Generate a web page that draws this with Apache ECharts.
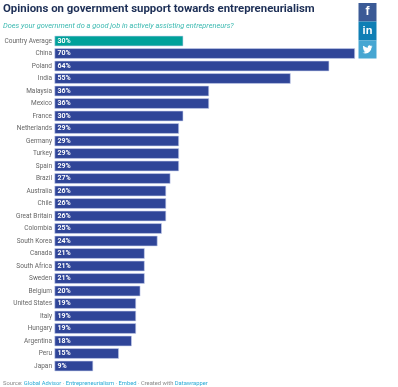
<!DOCTYPE html>
<html>
<head>
<meta charset="utf-8">
<style>
html, body { margin: 0; padding: 0; background: #fff; }
#chart { width: 398px; height: 387px; }
</style>
<script src="https://cdn.jsdelivr.net/npm/echarts@6/dist/echarts.min.js"></script>
</head>
<body>
<div id="chart"></div>
<script>
var countries = ['Country Average', 'China', 'Poland', 'India', 'Malaysia', 'Mexico', 'France', 'Netherlands', 'Germany', 'Turkey', 'Spain', 'Brazil', 'Australia', 'Chile', 'Great Britain', 'Colombia', 'South Korea', 'Canada', 'South Africa', 'Sweden', 'Belgium', 'United States', 'Italy', 'Hungary', 'Argentina', 'Peru', 'Japan']
var shares = [30, 70, 64, 55, 36, 36, 30, 29, 29, 29, 29, 27, 26, 26, 26, 25, 24, 21, 21, 21, 20, 19, 19, 19, 18, 15, 9]

// twitter bird outline on a 24 unit box
var birdOutline = [[24, 4.6], [21.1, 5.3], [23.3, 2.6], [20.2, 3.8], [18.5, 2.5], [16.6, 2], [14, 3], [12.7, 5], [12.7, 6], [12.8, 7.5], [7.7, 6.3], [4, 4], [1.6, 3.2], [1, 5.6], [1.5, 8], [3.2, 9.7], [0.9, 9.1], [1.5, 11.5], [4.9, 14], [2.7, 14.1], [3.9, 16.5], [7.3, 17.5], [4, 19.3], [0, 19.5], [3.5, 21.2], [7.5, 21.7], [13, 20.5], [17.5, 17], [20.5, 12.5], [21.5, 7.8], [22.7, 6.5]]

var chart = echarts.init(document.getElementById('chart'))
chart.setOption({
    animation: false,
    textStyle: { fontFamily: 'Roboto' },
    grid: { left: 54.5, top: 34.75, width: 300.5, height: 337.5, outerBoundsMode: 'none' },
    xAxis: { type: 'value', min: 0, max: 70, show: false },
    yAxis: {
        type: 'category',
        inverse: true,
        data: countries,
        axisLine: { show: false },
        axisTick: { show: false },
        axisLabel: { color: '#666', fontSize: 6.5, margin: 2.5, interval: 0 },
    },
    series: [
        {
            type: 'bar',
            barWidth: 10.5,
            data: shares.map(function (v, i) {
                return {
                    value: v,
                    itemStyle: { color: i === 0 ? '#00a19a' : '#2f4598' },
                }
            }),
            itemStyle: { borderColor: '#c9d2ee', borderWidth: 0.6 },
            label: {
                show: true,
                position: 'insideLeft',
                distance: 3,
                formatter: '{c}%',
                color: '#fff',
                fontSize: 7,
                fontWeight: 'bold',
            },
        },
    ],
    graphic: [
        { type: 'text', left: 3, top: 3.5, style: { text: 'Opinions on government support towards entrepreneurialism', fill: '#1d2f56', font: 'bold 11.4px Roboto' } },
        { type: 'text', left: 3, top: 22.5, style: { text: 'Does your government do a good job in actively assisting entrepreneurs?', fill: '#3ab9b0', font: 'italic 7.4px Roboto' } },
        {
            type: 'text', left: 3, top: 381,
            style: {
                text: '{g|Source: }{b|Global Advisor}{g| · }{b|Entrepreneurialism}{g| · }{b|Embed}{g| · Created with }{b|Datawrapper}',
                rich: {
                    g: { fill: '#888', font: '5.8px Roboto' },
                    b: { fill: '#29abd6', font: '5.8px Roboto' },
                },
            },
        },
        { type: 'rect', shape: { x: 358.5, y: 3, width: 18, height: 18.5 }, style: { fill: '#3b5a96' } },
        { type: 'rect', shape: { x: 358.5, y: 21.5, width: 18, height: 19 }, style: { fill: '#0f7fb5' } },
        { type: 'rect', shape: { x: 358.5, y: 40.5, width: 18, height: 18 }, style: { fill: '#46a6d2' } },
        { type: 'text', x: 367.5, y: 12, style: { text: 'f', fill: '#fff', font: 'bold 12px "Liberation Sans"', align: 'center', verticalAlign: 'middle' } },
        { type: 'text', x: 367.5, y: 30.5, style: { text: 'in', fill: '#fff', font: 'bold 11px "Liberation Sans"', align: 'center', verticalAlign: 'middle' } },
        { type: 'polygon', x: 362.5, y: 44.5, scaleX: 10 / 24, scaleY: 10 / 24, shape: { points: birdOutline }, style: { fill: '#fff' } },
    ],
})
</script>
</body>
</html>
